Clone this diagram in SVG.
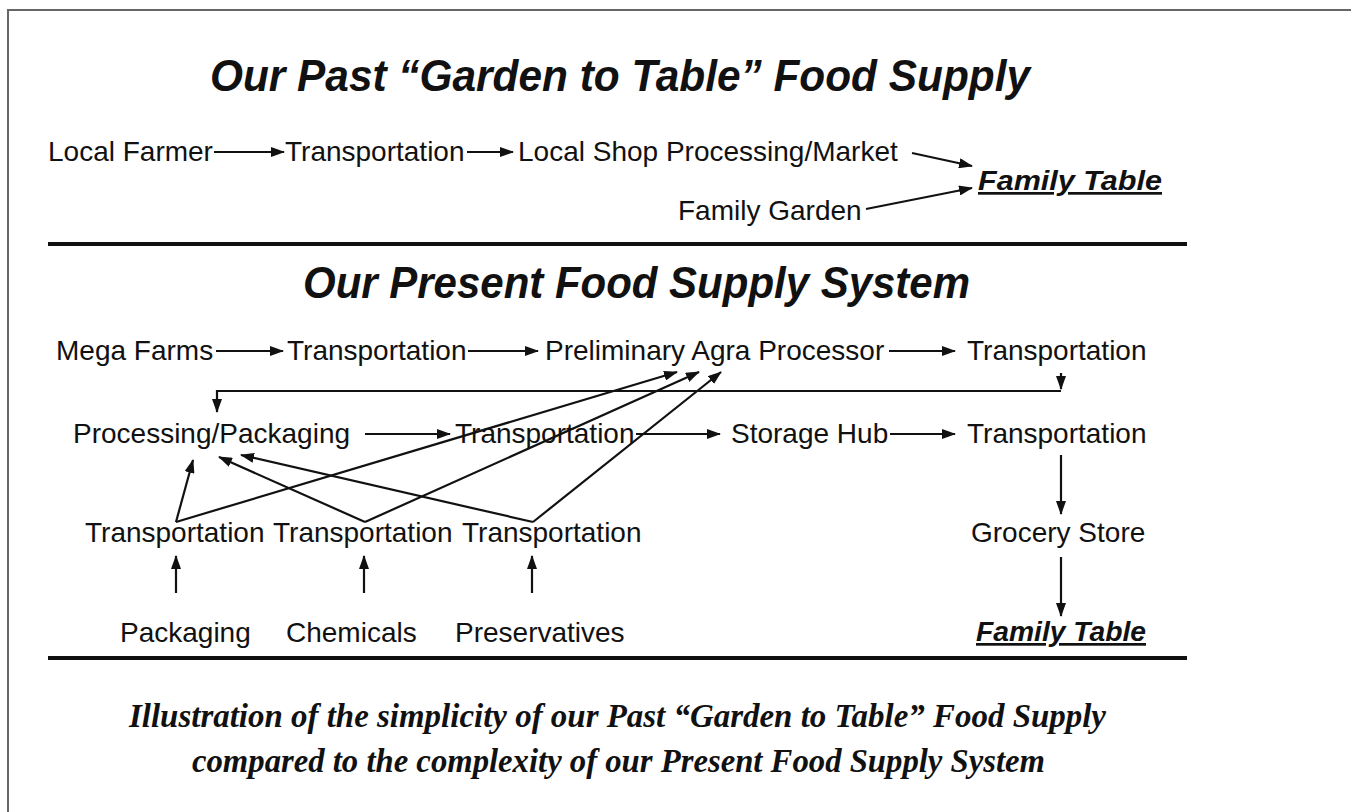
<svg xmlns="http://www.w3.org/2000/svg" width="1351" height="812" viewBox="0 0 1351 812">
  <defs>
    <marker id="arrow" viewBox="0 0 14 10" refX="13" refY="5" markerWidth="14" markerHeight="10" markerUnits="userSpaceOnUse" orient="auto">
      <path d="M0,0 L14,5 L0,10 Z" fill="#111"/>
    </marker>
    <style>
      .label { font-family: "Liberation Sans", Arial, sans-serif; font-size: 28px; fill: #111; }
      .title { font-family: "Liberation Sans", Arial, sans-serif; font-size: 45px; font-weight: bold; font-style: italic; fill: #111; }
      .goal { font-family: "Liberation Sans", Arial, sans-serif; font-size: 27px; font-weight: bold; font-style: italic; fill: #111; text-decoration: underline; }
      .caption { font-family: "Liberation Serif", "Times New Roman", serif; font-size: 34px; font-weight: bold; font-style: italic; fill: #111; }
      .rule { stroke: #111; stroke-width: 4; }
      .frame { stroke: #666; stroke-width: 2; fill: none; }
      .conn line, .conn path { stroke: #111; stroke-width: 2.2; fill: none; }
      .arr { marker-end: url(#arrow); }
    </style>
  </defs>

  <rect width="1351" height="812" fill="#ffffff"/>

  <!-- page frame (top and left edges) -->
  <path class="frame" d="M8,812 V10 H1351"/>

  <!-- section titles -->
  <text id="title-past" class="title" x="210" y="91" textLength="820" lengthAdjust="spacingAndGlyphs">Our Past “Garden to Table” Food Supply</text>
  <text id="title-present" class="title" x="303" y="298" textLength="667" lengthAdjust="spacingAndGlyphs">Our Present Food Supply System</text>

  <!-- section dividers -->
  <line class="rule" x1="48" y1="244" x2="1187" y2="244"/>
  <line class="rule" x1="48" y1="658" x2="1187" y2="658"/>

  <!-- past supply chain -->
  <g id="local-farmer"><text class="label" x="48" y="161">Local Farmer</text></g>
  <g id="past-transport"><text class="label" x="285" y="161">Transportation</text></g>
  <g id="local-shop"><text class="label" x="518" y="161">Local Shop Processing/Market</text></g>
  <g id="family-garden"><text class="label" x="678" y="220">Family Garden</text></g>
  <g id="family-table-past"><text class="goal" x="978" y="190" textLength="184" lengthAdjust="spacingAndGlyphs">Family Table</text></g>

  <!-- present supply chain -->
  <g id="mega-farms"><text class="label" x="56" y="360">Mega Farms</text></g>
  <g id="transport-1"><text class="label" x="287" y="360">Transportation</text></g>
  <g id="agra-processor"><text class="label" x="545" y="360">Preliminary Agra Processor</text></g>
  <g id="transport-2"><text class="label" x="967" y="360">Transportation</text></g>
  <g id="processing-packaging"><text class="label" x="73" y="443">Processing/Packaging</text></g>
  <g id="transport-3"><text class="label" x="455" y="443">Transportation</text></g>
  <g id="storage-hub"><text class="label" x="731" y="443">Storage Hub</text></g>
  <g id="transport-4"><text class="label" x="967" y="443">Transportation</text></g>
  <g id="transport-a"><text class="label" x="85" y="542">Transportation</text></g>
  <g id="transport-b"><text class="label" x="273" y="542">Transportation</text></g>
  <g id="transport-c"><text class="label" x="462" y="542">Transportation</text></g>
  <g id="grocery-store"><text class="label" x="971" y="542">Grocery Store</text></g>
  <g id="packaging"><text class="label" x="120" y="642">Packaging</text></g>
  <g id="chemicals"><text class="label" x="286" y="642">Chemicals</text></g>
  <g id="preservatives"><text class="label" x="455" y="642">Preservatives</text></g>
  <g id="family-table-present"><text class="goal" x="976" y="641" textLength="170" lengthAdjust="spacingAndGlyphs">Family Table</text></g>

  <!-- connectors -->
  <g id="connectors" class="conn">
    <!-- past -->
    <line class="arr" x1="214" y1="152" x2="284" y2="152"/>
    <line class="arr" x1="467" y1="152" x2="513" y2="152"/>
    <line class="arr" x1="912" y1="153" x2="972" y2="166"/>
    <line class="arr" x1="866" y1="209" x2="972" y2="188"/>

    <!-- present: main line -->
    <line class="arr" x1="216" y1="351" x2="283" y2="351"/>
    <line class="arr" x1="468" y1="351" x2="538" y2="351"/>
    <line class="arr" x1="889" y1="351" x2="955" y2="351"/>
    <line class="arr" x1="1061" y1="373" x2="1061" y2="389"/>
    <path class="arr" d="M1061,391 H217 V412"/>
    <line class="arr" x1="365" y1="434" x2="450" y2="434"/>
    <line class="arr" x1="636" y1="434" x2="720" y2="434"/>
    <line class="arr" x1="890" y1="434" x2="955" y2="434"/>
    <line class="arr" x1="1061" y1="455" x2="1061" y2="514"/>
    <line class="arr" x1="1061" y1="557" x2="1061" y2="616"/>

    <!-- inputs -->
    <line class="arr" x1="176" y1="593" x2="176" y2="556"/>
    <line class="arr" x1="364" y1="593" x2="364" y2="556"/>
    <line class="arr" x1="532" y1="593" x2="532" y2="556"/>

    <!-- input transport fan-out -->
    <line class="arr" x1="176" y1="522" x2="193" y2="460"/>
    <line class="arr" x1="176" y1="522" x2="677" y2="372"/>
    <line class="arr" x1="365" y1="522" x2="219" y2="457"/>
    <line class="arr" x1="365" y1="522" x2="699" y2="372"/>
    <line class="arr" x1="533" y1="522" x2="241" y2="455"/>
    <line class="arr" x1="533" y1="522" x2="721" y2="372"/>
  </g>

  <!-- caption -->
  <text id="caption-1" class="caption" x="129" y="727" textLength="977" lengthAdjust="spacingAndGlyphs">Illustration of the simplicity of our Past “Garden to Table” Food Supply</text>
  <text id="caption-2" class="caption" x="192" y="772" textLength="853" lengthAdjust="spacingAndGlyphs">compared to the complexity of our Present Food Supply System</text>
</svg>
